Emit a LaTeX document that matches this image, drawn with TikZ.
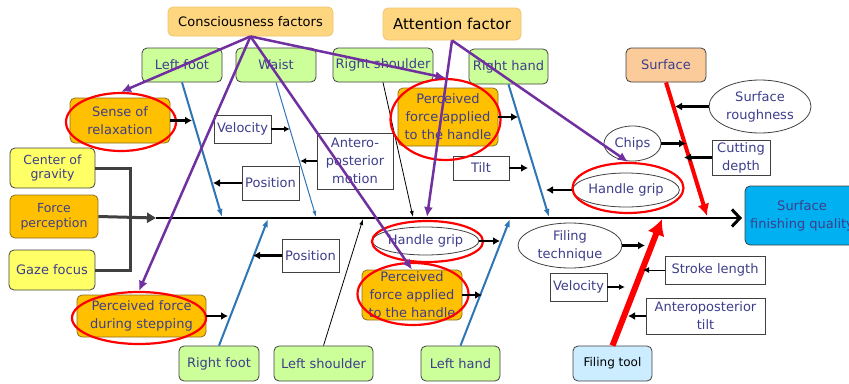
\documentclass[tikz,border=0pt]{standalone}
\usepackage{fontspec}
\setmainfont{DejaVu Sans}
\usetikzlibrary{arrows.meta,shapes.geometric}
\definecolor{txt}{RGB}{62,62,140}
\definecolor{conscf}{RGB}{255,214,128}
\definecolor{conscb}{RGB}{240,195,110}
\definecolor{grn}{RGB}{204,255,153}
\definecolor{org}{RGB}{255,192,0}
\definecolor{orgb}{RGB}{140,110,30}
\definecolor{yel}{RGB}{255,255,102}
\definecolor{peach}{RGB}{251,203,153}
\definecolor{cyanb}{RGB}{0,176,240}
\definecolor{ltblue}{RGB}{204,236,255}
\definecolor{purp}{RGB}{112,48,160}
\definecolor{boneblue}{RGB}{46,117,182}
\definecolor{dgray}{RGB}{64,64,64}
\begin{document}
\begin{tikzpicture}[x=1pt,y=-1pt,
  base/.style={inner sep=1pt, align=center, text=txt, font=\fontsize{13}{18}\selectfont},
  sz/.style 2 args={minimum width=#1pt, minimum height=#2pt},
  rbox/.style={base, rectangle, rounded corners=5pt, draw=dgray, line width=0.8pt},
  gbox/.style={rbox, fill=grn},
  obox/.style={rbox, fill=org, draw=orgb},
  ybox/.style={rbox, fill=yel},
  wbox/.style={base, rectangle, draw=dgray, line width=0.8pt, fill=white},
  wellip/.style={base, ellipse, draw=dgray, line width=0.8pt, fill=white, inner sep=0pt},
  ring/.style={ellipse, draw=red, line width=2.2pt, inner sep=0pt},
  sarr/.style={line width=2.2pt, -{Latex[length=7pt,width=8pt]}},
  tarr/.style={line width=1.5pt, -{Latex[length=6pt,width=6pt]}},
  bbone/.style={boneblue, line width=2pt, -{Latex[length=8pt,width=6pt]}},
  tbbone/.style={boneblue, line width=1pt, -{Latex[length=6pt,width=4pt]}},
  kbone/.style={black, line width=0.8pt, -{Latex[length=6pt,width=4pt]}},
  purparr/.style={purp, line width=2.5pt, -{Latex[length=10pt,width=9pt]}},
  smallfont/.style={font=\fontsize{12.5}{14.5}\selectfont}
]
\useasboundingbox (0,0) rectangle (849,383);

% spine coordinates
\coordinate (spst) at (156,218);
\coordinate (spend) at (742,218);
\coordinate (s1) at (222,217);
\coordinate (s2) at (316,217);
\coordinate (s3) at (413,217);
\coordinate (s4) at (549,217);
\coordinate (s5) at (707,216);
\coordinate (s6) at (268,219);
\coordinate (s7) at (363,219);
\coordinate (s8) at (510,219);
\coordinate (s9) at (662,219);
\coordinate (s10) at (427,217);
\coordinate (bk1) at (130,168);
\coordinate (bk2) at (130,270);

% nodes
\node[rbox, fill=conscf, draw=conscb, text=black, sz={165}{29}] (consc) at (250.5,21.5) {Consciousness factors};
\node[rbox, fill=conscf, draw=conscb, text=black, font=\fontsize{15}{18}\selectfont, sz={138}{32}] (att) at (452,24) {Attention factor};
\node[gbox, sz={80}{34}] (lf) at (182,65) {Left foot};
\node[gbox, sz={80}{34}] (waist) at (276,65) {Waist};
\node[gbox, sz={100}{34}] (rs) at (383,65) {Right shoulder};
\node[gbox, sz={79}{35}] (rh) at (508.5,66.5) {Right hand};
\node[rbox, fill=peach, sz={80}{34}] (surf) at (666,65) {Surface};
\node[obox, sz={100}{45}] (sr) at (120,120.5) {Sense of\\relaxation};
\node[wbox, sz={57}{28}] (vel1) at (242.5,129) {Velocity};
\node[wbox, sz={76}{56}] (apm) at (355,161) {Antero-\\posterior\\motion};
\node[obox, sz={100}{58}] (pf1) at (448,117) {Perceived\\force applied\\to the handle};
\node[ybox, smallfont, sz={85}{40}] (cog) at (52.5,168) {Center of\\gravity};
\node[wbox, sz={57}{34}] (pos1) at (270.5,183) {Position};
\node[wbox, sz={56}{24}] (tilt) at (481,168) {Tilt};
\node[wellip, sz={57}{35}] (chips) at (632.5,143.5) {Chips};
\node[wellip, sz={102}{53}] (srough) at (760,106.5) {Surface\\roughness};
\node[wbox, sz={58}{35}] (cut) at (741,157.5) {Cutting\\depth};
\node[wellip, sz={96}{34}] (hg2) at (626,190) {Handle grip};
\node[rbox, fill=cyanb, sz={114}{59}] (sfq) at (802,215.5) {Surface\\finishing quality};
\node[obox, smallfont, sz={88}{43}] (fp) at (54,216.5) {Force\\perception};
\node[ybox, sz={86}{40}] (gaze) at (52,270) {Gaze focus};
\node[wellip, sz={85}{28}] (hg1) at (425.5,241) {Handle grip};
\node[wbox, sz={57}{33}] (pos2) at (310.5,255.5) {Position};
\node[wellip, sz={104}{45}] (ft) at (570,245.5) {Filing\\technique};
\node[obox, sz={100}{50}] (pf2) at (412,295) {Perceived\\force applied\\to the handle};
\node[wbox, sz={100}{28}] (stroke) at (715,270) {Stroke length};
\node[wbox, sz={57}{28}] (vel2) at (578.5,287) {Velocity};
\node[wbox, sz={119}{36}] (apt) at (705.5,316) {Anteroposterior\\tilt};
\node[obox, sz={129}{42}] (pfds) at (141.5,316) {Perceived force\\during stepping};
\node[gbox, sz={80}{35}] (rf) at (219,363.5) {Right foot};
\node[gbox, sz={99}{35}] (ls) at (323.5,363.5) {Left shoulder};
\node[gbox, sz={79}{35}] (lh) at (460.5,363.5) {Left hand};
\node[rbox, fill=ltblue, text=black, font=\fontsize{12}{14}\selectfont, sz={79}{35}] (ftool) at (612.5,363.5) {Filing tool};

% spine and bones
\draw[line width=2.8pt, -{Straight Barb[length=8pt,width=17pt,line width=3pt]}] (spst) -- (spend);
\draw[dgray, line width=3pt] (cog.east) -- (bk1) -- (bk2) -- (gaze.east);
\draw[dgray, line width=3pt, -{Triangle[length=9pt,width=10pt]}] (fp.east) -- (spst);
\draw[bbone] (lf.south) -- (s1);
\draw[tbbone] (waist.south) -- (s2);
\draw[kbone] (rs.south) -- (s3);
\draw[bbone] (rh.south) -- (s4);
\draw[red, line width=4pt, -{Latex[length=12pt,width=12pt]}] (surf.south) -- (s5);
\draw[bbone] (rf.north) -- (s6);
\draw[kbone] (ls.north) -- (s7);
\draw[bbone] (lh.north) -- (s8);
\draw[red, line width=6pt, -{Latex[length=16pt,width=18pt]}] (ftool.north) -- (s9);

% red rings
\node[ring, sz={110}{58}] (r1) at (121,122) {};
\node[ring, sz={110}{81}] (r2) at (445.5,119.5) {};
\node[ring, sz={111}{50}] (r3) at (628,188) {};
\node[ring, sz={111}{41}] (r4) at (427.5,241.5) {};
\node[ring, sz={111}{62}] (r5) at (413,294) {};
\node[ring, sz={134}{52}] (r6) at (139,318) {};

% small branch arrows
\coordinate (a1) at (192,120.5);
\coordinate (a2) at (290,129);
\coordinate (a3) at (300,161);
\coordinate (a4) at (213,183);
\coordinate (a5) at (518,117);
\coordinate (a6) at (528,168);
\coordinate (a7) at (546,190);
\coordinate (a8) at (686,143.5);
\coordinate (a9) at (675,106.5);
\coordinate (a10) at (684,157.5);
\coordinate (a11) at (500,241);
\coordinate (a12) at (482,295);
\coordinate (a13) at (253,255.5);
\coordinate (a14) at (228,316);
\coordinate (a15) at (645,245.5);
\coordinate (a16) at (643,270);
\coordinate (a17) at (625,287);
\coordinate (a18) at (628,316);
\draw[sarr] (sr.east) -- (a1);
\draw[tarr] (vel1.east) -- (a2);
\draw[tarr] (apm.west) -- (a3);
\draw[sarr] (pos1.west) -- (a4);
\draw[sarr] (pf1.east) -- (a5);
\draw[sarr] (tilt.east) -- (a6);
\draw[sarr] (hg2.west) -- (a7);
\draw[sarr] (chips.east) -- (a8);
\draw[sarr] (srough.west) -- (a9);
\draw[sarr] (cut.west) -- (a10);
\draw[sarr] (hg1.east) -- (a11);
\draw[sarr] (pf2.east) -- (a12);
\draw[sarr] (pos2.west) -- (a13);
\draw[sarr] (pfds.east) -- (a14);
\draw[sarr] (ft.east) -- (a15);
\draw[tarr, line width=1pt] (stroke.west) -- (a16);
\draw[tarr] (vel2.east) -- (a17);
\draw[sarr] (apt.west) -- (a18);

% purple arrows
\draw[purparr] (consc.south) -- (r1.north);
\draw[purparr] (consc.south) -- (r2.north);
\draw[purparr] (consc.south) -- (r6.north);
\draw[purparr] (consc.south) -- (pf2.north);
\draw[purparr] (att.south) -- (s10);
\draw[purparr] (att.south) -- (r3.north);
\end{tikzpicture}
\end{document}
